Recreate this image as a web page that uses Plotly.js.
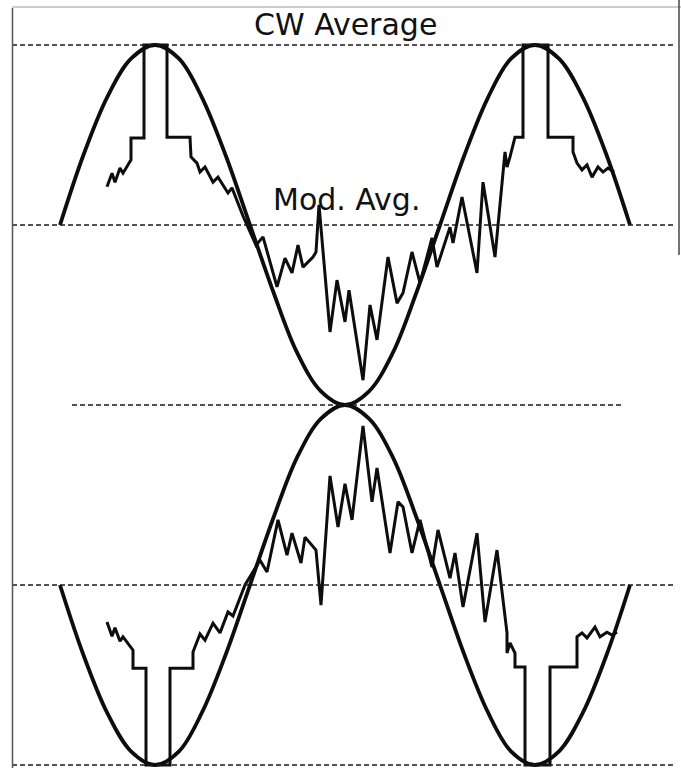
<!DOCTYPE html>
<html>
<head>
<meta charset="utf-8">
<script src="https://cdn.plot.ly/plotly-3.0.1.min.js"></script>
<style>html,body{margin:0;padding:0;background:#fff;}#chart{width:681px;height:768px;}</style>
</head>
<body>
<div id="chart"></div>
<script>
// time (arbitrary units, 0 = modulation null) and amplitude (% of CW peak)
const envT = [-285,-262,-238,-214,-190,-166,-143,-119,-95,-71,-48,-24,0,24,48,71,95,119,143,166,190,214,238,262,285];
const envUpper = [50,69.1,85.4,96.2,100,96.2,85.4,69.1,50,30.9,14.6,3.8,0,3.8,14.6,30.9,50,69.1,85.4,96.2,100,96.2,85.4,69.1,50];
const envLower = [-50,-69.1,-85.4,-96.2,-100,-96.2,-85.4,-69.1,-50,-30.9,-14.6,-3.8,0,-3.8,-14.6,-30.9,-50,-69.1,-85.4,-96.2,-100,-96.2,-85.4,-69.1,-50];

const modUpperT = [-238,-233,-230,-225,-222,-214,-214,-201,-201,-178,-178,-155,-154,-148,-145,-140,-132,-127,-117,-113,-102,-89,-82,-68,-60,-53,-47,-42,-32,-29,-26,-15,-8,0,4,18,25,32,43,52,58,67,75,87,92,105,108,117,132,138,150,160,162,165,170,178,178,203,203,228,228,232,237,242,247,253,258,263,269];
const modUpperA = [60.6,64.4,61.9,65.8,64.4,68.1,74.2,74.2,100,100,74.4,74.4,68.9,67.2,64.7,66.1,61.9,63.3,58.9,60.3,52.5,44.4,46.7,32.8,40.8,36.7,44.4,38.3,41.1,42.5,55.6,20.3,34.7,23.1,31.9,6.9,27.8,18.1,41.1,28.3,31.1,42.5,33.9,46.4,38.3,49.4,45.0,57.8,36.7,61.9,41.1,70.3,66.1,68.9,74.4,74.4,100,100,74.4,74.4,70.3,67.2,65.3,66.7,63.3,66.1,64.7,65.8,64.7];

const modLowerT = [-238,-233,-230,-225,-222,-212,-212,-199,-199,-175,-175,-152,-152,-145,-140,-132,-125,-117,-112,-100,-85,-78,-67,-58,-53,-44,-40,-29,-24,-15,-7,0,7,18,27,32,45,53,58,67,75,87,93,105,110,118,132,140,152,162,162,165,170,170,180,180,205,205,232,232,237,242,250,255,262,267,272];
const modLowerA = [-60.3,-64.2,-61.9,-65.6,-64.4,-68.1,-73.1,-73.1,-100,-100,-73.1,-73.1,-68.6,-63.6,-65.3,-60.6,-63.3,-57.5,-58.6,-50.0,-43.1,-46.4,-31.9,-41.7,-35.6,-43.9,-36.7,-40.3,-55.6,-19.7,-33.9,-21.9,-31.9,-5.8,-26.9,-17.5,-41.1,-26.9,-28.3,-41.1,-31.9,-45.0,-34.7,-48.1,-41.1,-56.1,-35.6,-60.3,-40.3,-63.3,-68.9,-66.1,-68.9,-72.8,-72.8,-100,-100,-72.8,-72.8,-64.4,-63.3,-64.7,-61.7,-64.4,-63.1,-63.9,-63.1];

const refLevels = [100, 50, 0, -50, -100];
const labels = ["CW Average", "Mod. Avg."];

const ink = '#0d0d0d';
const traces = [
  {x: envT, y: envUpper, mode: 'lines', line: {color: ink, width: 3.8, shape: 'spline', smoothing: 1}, hoverinfo: 'skip'},
  {x: envT, y: envLower, mode: 'lines', line: {color: ink, width: 3.8, shape: 'spline', smoothing: 1}, hoverinfo: 'skip'},
  {x: modUpperT, y: modUpperA, mode: 'lines', line: {color: ink, width: 3}, hoverinfo: 'skip'},
  {x: modLowerT, y: modLowerA, mode: 'lines', line: {color: ink, width: 3}, hoverinfo: 'skip'}
];

const shapes = refLevels.map(v => ({
  type: 'line', xref: 'x', yref: 'y',
  x0: v === 0 ? -273 : -333, x1: v === 0 ? 278 : 330,
  y0: v, y1: v,
  line: {color: '#1a1a1a', width: 1.7, dash: '5px,3px'}
}));
// scanned frame edges
shapes.push({type: 'line', xref: 'paper', yref: 'paper', x0: 12.5/681, x1: 12.5/681, y0: 0, y1: 1 - 8/768, line: {color: '#555', width: 1.5}});
shapes.push({type: 'line', xref: 'paper', yref: 'paper', x0: 12/681, x1: 1, y0: 1 - 7/768, y1: 1 - 7/768, line: {color: '#999', width: 1}});
shapes.push({type: 'line', xref: 'paper', yref: 'paper', x0: 679/681, x1: 679/681, y0: 1, y1: 1 - 255/768, line: {color: '#444', width: 1.5}});

const layout = {
  width: 681, height: 768,
  margin: {l: 0, r: 0, t: 0, b: 0},
  paper_bgcolor: '#fff', plot_bgcolor: '#fff',
  showlegend: false,
  xaxis: {range: [-345, 336], visible: false, fixedrange: true},
  yaxis: {range: [-100.83, 112.5], visible: false, fixedrange: true},
  shapes: shapes,
  annotations: [
    {x: 0, y: 105.6, xref: 'x', yref: 'y', text: labels[0], showarrow: false, xanchor: 'center', yanchor: 'middle',
     font: {family: 'DejaVu Sans, sans-serif', size: 30, color: '#111'}},
    {x: 1, y: 57.2, xref: 'x', yref: 'y', text: labels[1], showarrow: false, xanchor: 'center', yanchor: 'middle',
     font: {family: 'DejaVu Sans, sans-serif', size: 30, color: '#111'}}
  ]
};

Plotly.newPlot('chart', traces, layout, {staticPlot: true, displayModeBar: false});
</script>
</body>
</html>
